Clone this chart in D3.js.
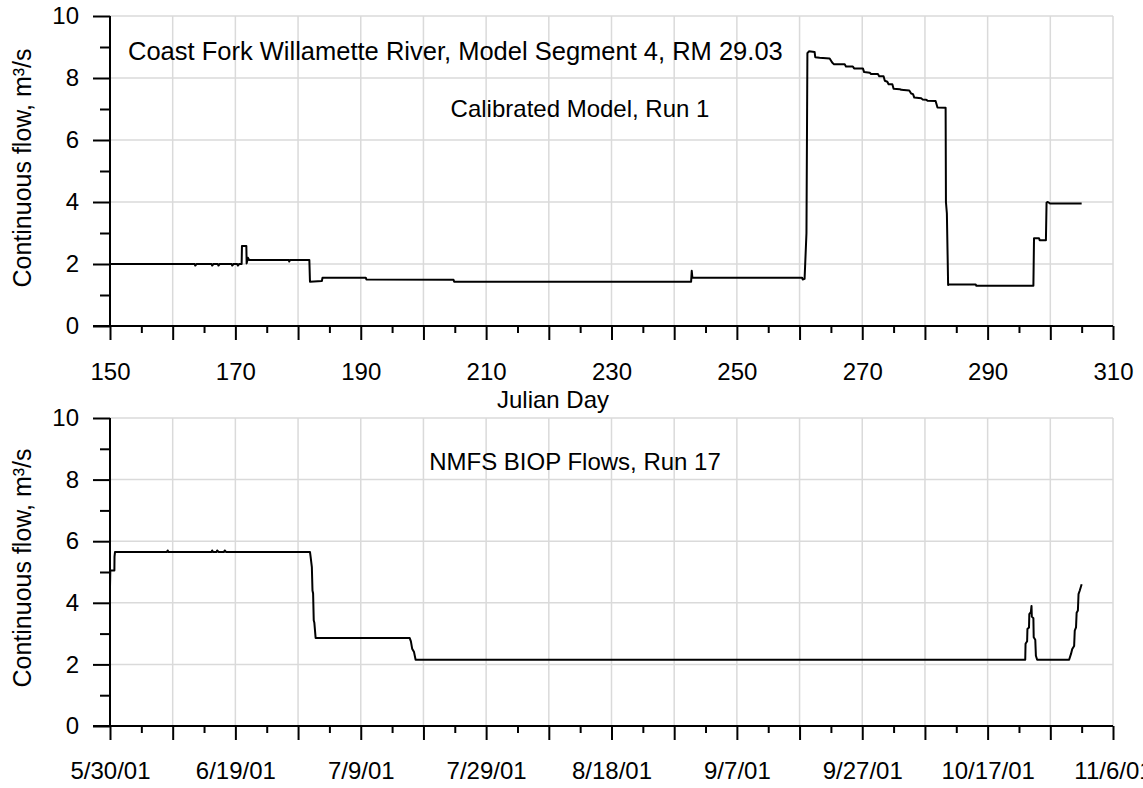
<!DOCTYPE html>
<html>
<head>
<meta charset="utf-8">
<script src="https://cdn.jsdelivr.net/npm/d3@7"></script>
<style>
  html, body { margin: 0; padding: 0; background: #fff; overflow: hidden; }
  svg { display: block; }
  text { font-family: "Liberation Sans", Arial, sans-serif; fill: #000; }
</style>
</head>
<body>
<svg id="chart" width="1143" height="788"></svg>
<script>
// ---------------- data ----------------
// Top panel: Calibrated Model, Run 1 (Julian day, flow m3/s)
const run1Days = [150, 163.5, 163.6, 163.8, 166.2, 166.3, 166.5, 167.2, 167.3, 167.5, 169.4, 169.5, 169.7, 170.3, 170.4, 170.6,
  171.0, 171.05, 171.75, 171.8, 172.0, 172.2, 178.5, 178.6, 178.7, 181.8, 181.9, 183.8, 183.9, 190.8, 190.9, 204.8, 204.9,
  242.7, 242.8, 242.9, 260.4, 260.5, 260.8, 261.1, 261.25, 261.5, 262.4,
  262.5, 263.2, 264.8, 265.2, 265.5, 267.2, 267.4, 268.5, 268.7, 270.1, 270.3, 271.2, 271.4, 272.5, 272.7, 273.4, 273.6, 274.0,
  274.2, 274.8, 275.0, 276.0, 276.2, 277.5, 277.8, 278.1, 278.3, 279.4, 279.6, 280.2, 280.4, 281.7, 282.0, 283.3,
  283.35, 283.5, 283.7, 283.8, 288.1, 288.2, 297.3, 297.4, 298.2, 298.3, 299.3, 299.4, 299.6, 300.0, 305.0];
const run1Flow = [2.0, 2.0, 1.95, 2.0, 2.0, 1.95, 2.0, 2.0, 1.95, 2.0, 2.0, 1.95, 2.0, 2.0, 1.95, 2.0,
  2.0, 2.58, 2.58, 2.02, 2.2, 2.13, 2.13, 2.08, 2.13, 2.13, 1.43, 1.45, 1.56, 1.56, 1.5, 1.49, 1.43,
  1.43, 1.78, 1.56, 1.56, 1.5, 1.52, 2.99, 8.8, 8.86, 8.84,
  8.67, 8.65, 8.63, 8.5, 8.44, 8.44, 8.37, 8.37, 8.31, 8.31, 8.19, 8.17, 8.13, 8.13, 8.06, 8.06, 7.91, 7.88,
  7.8, 7.8, 7.65, 7.64, 7.62, 7.6, 7.5, 7.48, 7.37, 7.35, 7.31, 7.3, 7.27, 7.26, 7.05, 7.04,
  4.0, 3.63, 1.32, 1.34, 1.34, 1.3, 1.3, 2.83, 2.83, 2.77, 2.77, 3.98, 4.0, 3.95, 3.95];

// Bottom panel: NMFS BIOP Flows, Run 17 (day of year 2001, flow m3/s)
const run17Days = [150.0, 150.05, 150.7, 150.72, 150.8, 159.1, 159.2, 159.3, 166.2, 166.3, 166.4, 167.0, 167.1, 167.3,
  168.2, 168.3, 168.5, 181.9, 182.0, 182.2, 182.3, 182.4, 182.5, 182.6, 182.8,
  197.8, 198.0, 198.2, 198.5, 198.75,
  296.0, 296.05, 296.3, 296.35, 296.6, 296.65, 296.9, 297.0, 297.05, 297.3, 297.35, 297.6, 297.7, 297.9,
  303.0, 303.3, 303.5, 303.8, 303.9, 304.1, 304.2, 304.4, 304.5, 304.7, 305.0];
const run17Flow = [4.5, 5.05, 5.05, 5.5, 5.65, 5.65, 5.7, 5.65, 5.65, 5.7, 5.65, 5.65, 5.7, 5.65,
  5.65, 5.7, 5.65, 5.65, 5.5, 5.16, 4.4, 4.3, 3.43, 3.35, 2.86,
  2.86, 2.75, 2.51, 2.4, 2.15,
  2.15, 2.67, 2.75, 3.15, 3.2, 3.63, 3.7, 3.9, 3.55, 3.5, 2.88, 2.8, 2.28, 2.15,
  2.15, 2.34, 2.5, 2.6, 3.1, 3.2, 3.68, 3.75, 4.28, 4.4, 4.6];

const yTicks = [0, 2, 4, 6, 8, 10];
const yMinor = [1, 3, 5, 7, 9];
const xMajorDays = d3.range(150, 311, 10);
const xMinorDays = d3.range(155, 310, 10);
const xLabelDays = [150, 170, 190, 210, 230, 250, 270, 290, 310];

const yLabelText = "Continuous flow, m\u00B3/s";
const topTitle1 = "Coast Fork Willamette River, Model Segment 4, RM 29.03";
const topTitle2 = "Calibrated Model, Run 1";
const bottomTitle = "NMFS BIOP Flows, Run 17";
const xTitleTop = "Julian Day";

// ---------------- drawing ----------------
const svg = d3.select("#chart");
const FS = 24;
const LEFT = 110, RIGHT = 1113;
const GRID = "#dadada";

const dateOf = doy => new Date(Date.UTC(2001, 0, 1) + (doy - 1) * 864e5);
const fmtDate = d3.utcFormat("%-m/%-d/%y");

function panel(opts) {
  const g = svg.append("g");
  const y = d3.scaleLinear().domain([0, 10]).range([opts.y0, opts.y1]);
  const x = opts.x;

  // gridlines
  g.append("g").selectAll("line").data(yTicks.filter(d => d > 0)).join("line")
    .attr("x1", LEFT).attr("x2", RIGHT)
    .attr("y1", d => y(d)).attr("y2", d => y(d))
    .attr("stroke", GRID).attr("stroke-width", 1.5);
  g.append("g").selectAll("line").data(opts.xMajor.slice(1)).join("line")
    .attr("x1", d => x(d)).attr("x2", d => x(d))
    .attr("y1", opts.y1).attr("y2", opts.y0)
    .attr("stroke", GRID).attr("stroke-width", 1.5);

  // data line
  g.append("path").datum(opts.points)
    .attr("fill", "none").attr("stroke", "#000").attr("stroke-width", 2)
    .attr("stroke-linejoin", "round")
    .attr("d", d3.line().x(d => x(d[0])).y(d => y(d[1])));

  // y axis
  const yAx = g.append("g").attr("transform", `translate(${LEFT},0)`)
    .call(d3.axisLeft(y).tickValues(yTicks).tickSize(17).tickPadding(14).tickFormat(d3.format("d")));
  const yAxMin = g.append("g").attr("transform", `translate(${LEFT},0)`)
    .call(d3.axisLeft(y).tickValues(yMinor).tickSize(10).tickFormat(""));
  // x axis
  const xAx = g.append("g").attr("transform", `translate(0,${opts.y0})`)
    .call(d3.axisBottom(x).tickValues(opts.xMajor).tickSize(14)
      .tickFormat(d => opts.labelSet.has(+d) ? opts.fmt(d) : ""));
  const xAxMin = g.append("g").attr("transform", `translate(0,${opts.y0})`)
    .call(d3.axisBottom(x).tickValues(opts.xMinor).tickSize(7).tickFormat(""));

  [yAx, yAxMin, xAx, xAxMin].forEach(a => {
    a.select(".domain").remove();
    a.selectAll("line").attr("stroke", "#000").attr("stroke-width", 2);
    a.selectAll("text").attr("font-size", FS).attr("font-family", '"Liberation Sans", Arial, sans-serif').attr("fill", "#000");
  });
  xAx.selectAll("text").attr("y", opts.xLabelOffset).attr("dy", null);

  // axis lines
  g.append("line").attr("x1", LEFT).attr("x2", LEFT).attr("y1", opts.y1).attr("y2", opts.y0)
    .attr("stroke", "#000").attr("stroke-width", 2);
  g.append("line").attr("x1", LEFT - 17).attr("x2", RIGHT).attr("y1", opts.y0).attr("y2", opts.y0)
    .attr("stroke", "#000").attr("stroke-width", 2);

  // y label
  g.append("text")
    .attr("transform", `translate(31,${opts.yLabelCenter}) rotate(-90)`)
    .attr("text-anchor", "middle").attr("font-size", 25)
    .text(yLabelText);
  return { g, x, y };
}

// top panel
const xTop = d3.scaleLinear().domain([150, 310]).range([LEFT, RIGHT]);
const topPanel = panel({
  x: xTop, y0: 326, y1: 16,
  xMajor: xMajorDays, xMinor: xMinorDays,
  labelSet: new Set(xLabelDays), fmt: d3.format("d"),
  xLabelOffset: 54, yLabelCenter: 168,
  points: run1Days.map((d, i) => [d, run1Flow[i]])
});
topPanel.g.append("text").attr("x", 128).attr("y", 60).attr("font-size", 25.5).text(topTitle1);
topPanel.g.append("text").attr("x", 580).attr("y", 117).attr("text-anchor", "middle").attr("font-size", FS).text(topTitle2);
topPanel.g.append("text").attr("x", 553).attr("y", 408).attr("text-anchor", "middle").attr("font-size", FS).text(xTitleTop);

// bottom panel
const xBot = d3.scaleUtc().domain([dateOf(150), dateOf(310)]).range([LEFT, RIGHT]);
const botPanel = panel({
  x: xBot, y0: 726, y1: 418,
  xMajor: xMajorDays.map(dateOf), xMinor: xMinorDays.map(dateOf),
  labelSet: new Set(xLabelDays.map(d => +dateOf(d))), fmt: fmtDate,
  xLabelOffset: 53, yLabelCenter: 568,
  points: run17Days.map((d, i) => [dateOf(d), run17Flow[i]])
});
botPanel.g.append("text").attr("x", 575).attr("y", 470).attr("text-anchor", "middle").attr("font-size", FS).text(bottomTitle);
</script>
</body>
</html>
